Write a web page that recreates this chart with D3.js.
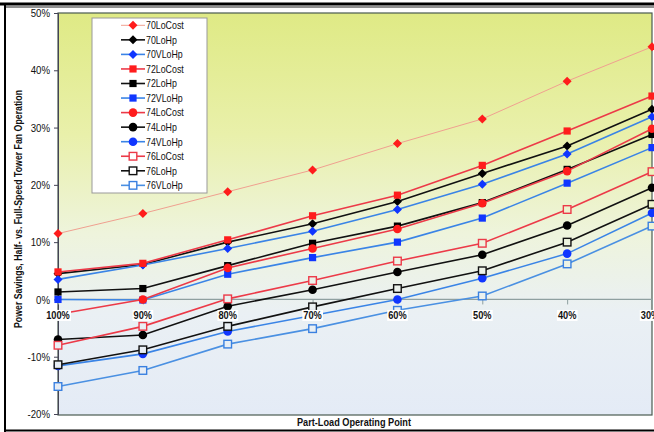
<!DOCTYPE html>
<html><head><meta charset="utf-8">
<script src="https://cdn.jsdelivr.net/npm/d3@7"></script>
<style>body{margin:0;background:#fff}svg{display:block}
text{font-family:"Liberation Sans",Arial,sans-serif}</style>
</head><body><svg id="c" width="654" height="432"></svg>
<script>
const categories = ["100%","90%","80%","70%","60%","50%","40%","30%"];
const yTicks = [-20,-10,0,10,20,30,40,50];
const seriesNames = ["70LoCost","70LoHp","70VLoHp","72LoCost","72LoHp","72VLoHp","74LoCost","74LoHp","74VLoHp","76LoCost","76LoHp","76VLoHp"];
const v70LoCost = [11.5, 15.0, 18.8, 22.6, 27.2, 31.5, 38.1, 44.1];
const v70LoHp   = [4.5, 6.1, 10.0, 13.2, 17.1, 22.0, 26.8, 33.2];
const v70VLoHp  = [3.5, 6.0, 8.9, 11.9, 15.7, 20.1, 25.4, 31.9];
const v72LoCost = [4.8, 6.3, 10.4, 14.6, 18.2, 23.4, 29.4, 35.5];
const v72LoHp   = [1.3, 1.9, 5.9, 9.8, 12.8, 16.9, 22.7, 28.8];
const v72VLoHp  = [0.0, -0.1, 4.4, 7.3, 10.0, 14.2, 20.3, 26.5];
const v74LoCost = [-2.6, 0.0, 5.5, 8.9, 12.3, 16.8, 22.4, 29.8];
const v74LoHp   = [-7.0, -6.2, -1.2, 1.7, 4.8, 7.8, 12.9, 19.5];
const v74VLoHp  = [-11.6, -9.5, -5.6, -2.8, 0.0, 3.7, 8.0, 15.1];
const v76LoCost = [-8.0, -4.7, 0.1, 3.3, 6.7, 9.8, 15.7, 22.3];
const v76LoHp   = [-11.4, -8.8, -4.7, -1.3, 1.9, 5.0, 10.0, 16.6];
const v76VLoHp  = [-15.2, -12.4, -7.8, -5.1, -1.9, 0.6, 6.2, 12.8];
const seriesValues = [v70LoCost,v70LoHp,v70VLoHp,v72LoCost,v72LoHp,v72VLoHp,v74LoCost,v74LoHp,v74VLoHp,v76LoCost,v76LoHp,v76VLoHp];
const yTitle = "Power Savings, Half- vs. Full-Speed Tower Fan Operation";
const xTitle = "Part-Load Operating Point";

const svg = d3.select("#c");
const L = 58, R = 652, T = 13, B = 414;
const x = d3.scalePoint().domain(categories).range([L, R]);
const y = d3.scaleLinear().domain([-20, 50]).range([B, T]);

function squeeze(sel, f){
  sel.each(function(){ const w = this.getComputedTextLength();
    d3.select(this).attr("textLength", w*f).attr("lengthAdjust","spacingAndGlyphs"); });
}

// gradient background
const defs = svg.append("defs");
const g = defs.append("linearGradient").attr("id","bg").attr("gradientUnits","userSpaceOnUse")
  .attr("x1",0).attr("y1",T).attr("x2",0).attr("y2",B);
[[0,"#dfea85"],[0.3,"#e9f0aa"],[0.55,"#eef4dc"],[0.75,"#eaf0f4"],[1,"#e4ebf6"]].forEach(s=>
  g.append("stop").attr("offset",s[0]).attr("stop-color",s[1]));

// outer frame
svg.append("line").attr("x1",0).attr("x2",654).attr("y1",4).attr("y2",4).attr("stroke","#000").attr("stroke-width",3);
svg.append("line").attr("x1",5).attr("x2",654).attr("y1",7).attr("y2",7).attr("stroke","#222").attr("stroke-width",1);
svg.append("line").attr("x1",5).attr("x2",5).attr("y1",3).attr("y2",432).attr("stroke","#000").attr("stroke-width",2);
svg.append("line").attr("x1",4).attr("x2",654).attr("y1",430.5).attr("y2",430.5).attr("stroke","#000").attr("stroke-width",2);

// plot area
svg.append("rect").attr("x",L).attr("y",T).attr("width",R-L).attr("height",B-T+1)
  .attr("fill","url(#bg)").attr("stroke","#4a5a50").attr("stroke-width",1.2);

// y axis
const ya = svg.append("g").attr("transform",`translate(${L},0)`)
  .call(d3.axisLeft(y).tickValues(yTicks).tickFormat(d=>d+"%").tickSize(4).tickPadding(4));
ya.select(".domain").attr("stroke","#445");
ya.selectAll("line").attr("stroke","#445");
ya.selectAll("text").attr("font-size",11.5).attr("fill","#111");
squeeze(ya.selectAll("text"), 0.84);

// zero line with category ticks
svg.append("line").attr("x1",L).attr("x2",R).attr("y1",y(0)).attr("y2",y(0)).attr("stroke","#8fa0a0").attr("stroke-width",1.2);
const xa = svg.append("g").attr("transform",`translate(0,${y(0)})`)
  .call(d3.axisBottom(x).tickSize(5).tickFormat(""));
xa.select(".domain").remove();
xa.selectAll("line").attr("stroke","#8fa0a0");

// styles
const colorOf = n => n.endsWith("LoCost") ? "red" : (n.endsWith("VLoHp") ? "blue" : "black");
const lineCol = {red:"#ec3a48", black:"#111", blue:"#3a84e6"};
const markCol = {red:"#ff1c1c", black:"#000", blue:"#1036ff"};
const shapeOf = n => ({"70":"diamond","72":"square","74":"circle","76":"open"})[n.slice(0,2)];
function lineColor(n){ if(n==="70LoCost") return "#f0a090"; if(n==="76VLoHp") return "#4a90e2"; return lineCol[colorOf(n)]; }
function lineWidth(n){ return n==="70LoCost" ? 1 : 1.6; }
function drawMarker(sel, n, cx, cy, fillOpen){
  const shp = shapeOf(n), c = markCol[colorOf(n)];
  if(shp==="diamond") sel.append("path").attr("d",`M${cx},${cy-4.5}L${cx+4.5},${cy}L${cx},${cy+4.5}L${cx-4.5},${cy}Z`).attr("fill",c);
  else if(shp==="square") sel.append("rect").attr("x",cx-3.6).attr("y",cy-3.6).attr("width",7.2).attr("height",7.2).attr("fill",c);
  else if(shp==="circle") sel.append("circle").attr("cx",cx).attr("cy",cy).attr("r",4.3).attr("fill",c);
  else sel.append("rect").attr("x",cx-3.8).attr("y",cy-3.8).attr("width",7.6).attr("height",7.6)
     .attr("fill",fillOpen).attr("stroke", n==="76VLoHp" ? "#3a80e0" : (n==="76LoCost" ? "#ec3a48" : "#111")).attr("stroke-width",1.4);
}

const lineGen = d3.line().x((d,i)=>x(categories[i])).y(d=>y(d));
const plot = svg.append("g");
seriesNames.forEach((n,k)=>{
  const gs = plot.append("g");
  gs.append("path").attr("d",lineGen(seriesValues[k])).attr("fill","none")
    .attr("stroke",lineColor(n)).attr("stroke-width",lineWidth(n));
  seriesValues[k].forEach((v,i)=>drawMarker(gs, n, x(categories[i]), y(v), "url(#bg)"));
});

// category labels with white boxes
const lab = svg.append("g");
categories.forEach(c=>{
  const t = lab.append("text").attr("x",x(c) - (c==="30%"?2:0)).attr("y",y(0)+19.5).attr("text-anchor","middle")
    .attr("font-size",11).attr("font-weight","bold").attr("fill","#111").text(c);
  squeeze(t, 0.84);
  const bb = t.node().getBBox();
  lab.insert("rect","text").attr("x",bb.x-1).attr("y",bb.y+1).attr("width",bb.width+2).attr("height",bb.height-1).attr("fill","#fff");
});

// legend
const lg = svg.append("g");
lg.append("rect").attr("x",92).attr("y",18).attr("width",115).attr("height",175).attr("fill","#fff").attr("stroke","#999").attr("stroke-width",1);
seriesNames.forEach((n,k)=>{
  const yy = 25.3 + k*14.55;
  lg.append("line").attr("x1",121).attr("x2",145).attr("y1",yy).attr("y2",yy).attr("stroke",lineColor(n)).attr("stroke-width",lineWidth(n));
  drawMarker(lg, n, 133, yy, "#fff");
  const t = lg.append("text").attr("x",146).attr("y",yy+3.8).attr("font-size",10.5).attr("fill","#111").text(n);
  squeeze(t, 0.84);
});

// titles
svg.append("text").attr("transform","translate(22,209) rotate(-90)").attr("text-anchor","middle")
  .attr("font-size",11).attr("font-weight","bold").attr("fill","#111").text(yTitle)
  .attr("textLength",238).attr("lengthAdjust","spacingAndGlyphs");
svg.append("text").attr("x",354).attr("y",426).attr("text-anchor","middle")
  .attr("font-size",11).attr("font-weight","bold").attr("fill","#111").text(xTitle)
  .attr("textLength",114).attr("lengthAdjust","spacingAndGlyphs");
</script></body></html>
